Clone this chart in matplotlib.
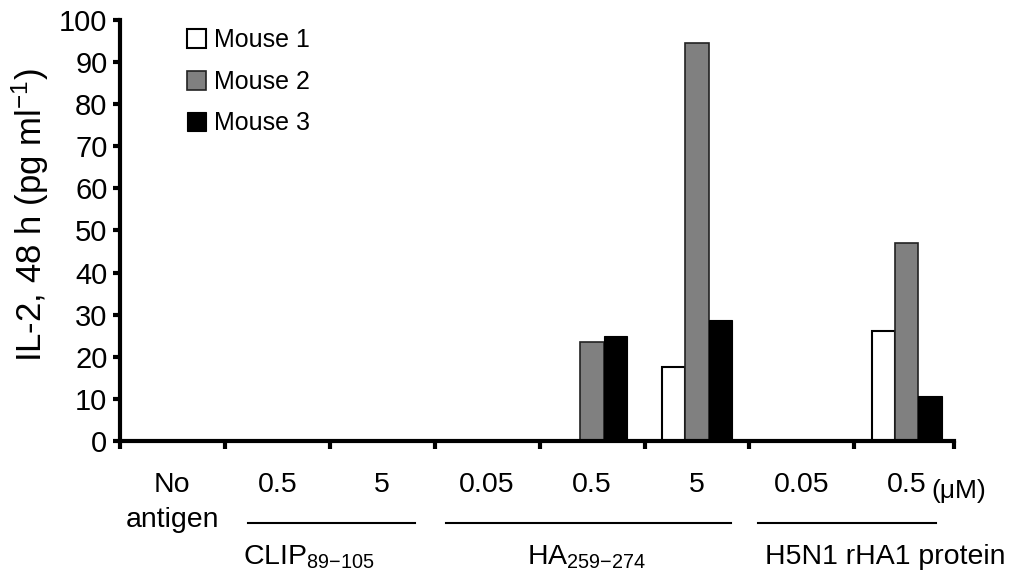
import numpy as np
import matplotlib
matplotlib.use('Agg')
import matplotlib.pyplot as plt

plt.rcParams['font.family'] = ['Liberation Sans', 'DejaVu Sans']
plt.rcParams['mathtext.fontset'] = 'custom'
plt.rcParams['mathtext.rm'] = 'Liberation Sans'
plt.rcParams['mathtext.it'] = 'Liberation Sans:italic'
plt.rcParams['mathtext.bf'] = 'Liberation Sans:bold'

# IL-2 release after 48 h, per antigen condition
conditions = ['No\nantigen', '0.5', '5', '0.05', '0.5', '5', '0.05', '0.5']
mouse1 = [0, 0, 0, 0, 0, 17.6, 0, 26.1]
mouse2 = [0, 0, 0, 0, 23.5, 94.6, 0, 47.0]
mouse3 = [0, 0, 0, 0, 25.0, 28.7, 0, 10.8]
series_names = ['Mouse 1', 'Mouse 2', 'Mouse 3']
# name, bracket start, bracket end, text left edge (in category units)
groups = [(r'CLIP$_{89\mathrm{-}105}$', 0.72, 2.31, 0.67),
          (r'HA$_{259\mathrm{-}274}$', 2.61, 5.32, 3.38),
          ('H5N1 rHA1 protein', 5.58, 7.28, 5.65)]

fig = plt.figure(figsize=(10.29, 5.79), dpi=100)
ax = fig.add_axes([0.1166, 0.2383, 0.8105, 0.7272])

x = np.arange(len(conditions))
w = 0.223
b1 = ax.bar(x - w, mouse1, w, color='white', edgecolor='black', linewidth=1.5)
b2 = ax.bar(x, mouse2, w, color='#808080', edgecolor='#222222', linewidth=1.2)
b3 = ax.bar(x + w, mouse3, w, color='black', edgecolor='black', linewidth=0.8)

ax.set_xlim(-0.5, 7.45)
ax.set_ylim(0, 100)
ax.set_yticks(np.arange(0, 101, 10))

for s in ['top', 'right']:
    ax.spines[s].set_visible(False)
for s in ['left', 'bottom']:
    ax.spines[s].set_linewidth(3)

ax.tick_params(axis='y', direction='out', length=5, width=3, labelsize=21, pad=4)

# tick marks between conditions, labels under each condition
ax.set_xticks(list(np.arange(-0.5, 7.0, 1.0)) + [7.45])
ax.set_xticklabels([])
ax.tick_params(axis='x', which='major', direction='out', length=6, width=3)
ax.set_xticks(x, minor=True)
ax.set_xticklabels(conditions, minor=True, fontsize=20.5, linespacing=1.45)
ax.tick_params(axis='x', which='minor', length=0, pad=22)

fig.text(30 / 1029, 1 - 215 / 579, r'IL-2, 48 h (pg ml$^{-1}$)', rotation=90,
         ha='center', va='center', fontsize=25)

# group brackets and names under the concentrations
trans = ax.get_xaxis_transform()
for name, x0, x1, xt in groups:
    ax.plot([x0, x1], [-0.195, -0.195], color='black', lw=1.5,
            transform=trans, clip_on=False)
    ax.text(xt, -0.275, name, transform=trans, ha='left', va='center',
            fontsize=20.5)
ax.text(7.23, -0.118, u'(\u03bcM)', transform=trans, ha='left', va='center',
        fontsize=19)

ax.legend([b1, b2, b3], series_names, loc='upper left',
          bbox_to_anchor=(0.08, 0.98), frameon=False, fontsize=18,
          handlelength=0.78, handleheight=0.78, handletextpad=0.3,
          labelspacing=0.7, borderpad=0, borderaxespad=0)

fig.savefig('out.png', dpi=100)
